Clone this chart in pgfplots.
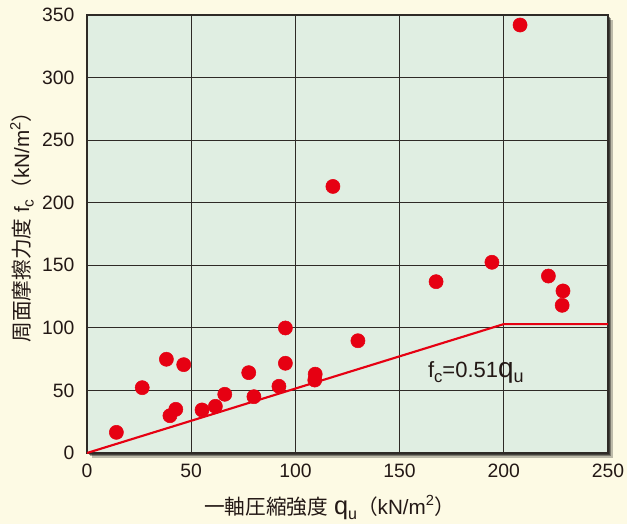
\documentclass[border=0pt]{standalone}
\usepackage{pgfplots}
\pgfplotsset{compat=1.18}
\usepackage{fontspec}
\setmainfont{Liberation Sans}
\newfontfamily\jp{Noto Sans CJK JP}
\definecolor{cream}{HTML}{FDFAE4}
\definecolor{plotbg}{HTML}{E0EEE2}
\definecolor{dotred}{HTML}{E60012}
\definecolor{gridc}{HTML}{2E2A26}
\definecolor{txt}{HTML}{231815}
% sub/superscripts at a fixed size
\newcommand{\sub}[2]{\raisebox{-0.22em}{\fontsize{#1}{#1}\selectfont #2}}
\newcommand{\sqr}{\raisebox{0.42em}{\fontsize{11}{11}\selectfont 2}}
\newcommand{\unit}{{\jp （}kN/m\sqr{\jp ）}}

\begin{document}
\begin{tikzpicture}
\path[fill=cream, use as bounding box] (-65.25pt,-53.25pt) rectangle (405pt,339.75pt);
% soft shadow
\fill[black, opacity=0.25] (3.5pt,-3.5pt) rectangle (394.3pt,325pt);
\fill[black, opacity=0.35] (2.5pt,-2.5pt) rectangle (393.3pt,326pt);
\fill[black, opacity=0.45] (1.2pt,-1.2pt) rectangle (392pt,327.3pt);
\begin{axis}[
  scale only axis, width=390.75pt, height=328.5pt,
  at={(0,0)}, anchor=south west,
  xmin=0, xmax=250, ymin=0, ymax=350,
  xtick={0,50,...,250}, ytick={0,50,...,350},
  grid=major, major grid style={gridc, line width=0.7pt},
  axis line style={gridc, line width=1pt},
  axis background/.style={fill=plotbg},
  major tick length=0pt,
  tick label style={font=\fontsize{14.5}{17}\selectfont, text=txt},
  /pgf/number format/assume math mode=true,
  xticklabel style={yshift=-5pt},
  yticklabel style={xshift=-6pt},
  xlabel={{\jp 一軸圧縮強度}\ {\fontsize{19}{20}\selectfont q}\sub{12}{u}\unit},
  ylabel={{\jp 周面摩擦力度}\ f\sub{11.5}{c}\unit},
  label style={font=\fontsize{15.5}{18}\selectfont, text=txt},
  xlabel style={at={(axis description cs:0.4655,0)}, anchor=center, yshift=-41pt},
  ylabel style={at={(axis description cs:0,0.527)}, anchor=center, yshift=48.75pt},
]
\addplot[dotred, line width=1.6pt] coordinates {(0,0) (200,103) (250,103)};
\addplot[only marks, mark=*, mark size=5.3pt, color=dotred] coordinates {
  (14.1,16.5) (26.5,52.2) (38.1,74.9) (46.4,70.6) (39.8,29.8) (42.6,34.9)
  (55.2,34.4) (61.6,37.3) (66.1,46.9) (77.6,64.2) (80.1,45.0) (92.1,53.3)
  (95.2,99.9) (95.2,71.7) (109.5,63.0) (109.3,58.3) (118.0,213.0) (130.0,89.7)
  (167.5,136.9) (194.3,152.4) (207.8,342.0) (221.4,141.4) (228.4,129.5) (228.0,118.0)
};
\node[anchor=base west, inner sep=0pt, font=\fontsize{16.5}{19}\selectfont, text=txt] at (axis cs:163.5,60) {f\sub{12.5}{c}=0.51{\fontsize{21}{22}\selectfont q}\sub{13.5}{u}};
\end{axis}
\end{tikzpicture}
\end{document}
